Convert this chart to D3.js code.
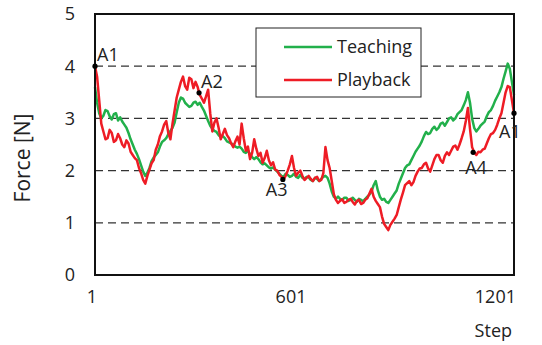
<!DOCTYPE html>
<html lang="en">
<head>
  <meta charset="UTF-8">
  <title>Teaching vs Playback force</title>
  <script src="https://d3js.org/d3.v7.min.js"></script>
  <style>
    body { margin: 0; background: #fff; }
    text { font-family: "Open Sans", sans-serif; fill: #222; }
  </style>
</head>
<body>
<svg width="542" height="345"></svg>
<script>
  const steps = d3.range(1, 1202, 6);
  const teaching = [
    3.6, 3.3, 3.1, 3.0, 3.05, 3.16, 3.14, 3.04, 2.98, 3.08, 3.1, 2.96, 3.02, 2.94, 2.88, 2.82, 2.72, 2.6, 2.5, 2.4,
    2.32, 2.22, 2.1, 1.98, 1.9, 1.96, 2.05, 2.18, 2.25, 2.3, 2.35, 2.46, 2.55, 2.58, 2.62, 2.7, 2.76, 2.82, 2.92, 3.12,
    3.3, 3.4, 3.38, 3.3, 3.26, 3.22, 3.24, 3.3, 3.32, 3.26, 3.3, 3.22, 3.15, 3.05, 2.95, 2.86, 2.8, 2.76, 2.74, 2.68,
    2.64, 2.66, 2.62, 2.56, 2.54, 2.52, 2.5, 2.46, 2.44, 2.46, 2.42, 2.36, 2.34, 2.38, 2.32, 2.26, 2.22, 2.26, 2.22, 2.16,
    2.12, 2.14, 2.1, 2.06, 2.04, 2.06, 2.02, 1.98, 1.94, 1.9, 1.88, 1.94, 1.92, 1.88, 1.9, 1.94, 1.88, 1.86, 1.92, 1.86,
    1.84, 1.88, 1.87, 1.82, 1.8, 1.86, 1.84, 1.8, 1.84, 1.88, 1.9, 1.86, 1.75, 1.6, 1.5, 1.46, 1.5, 1.46, 1.44, 1.48,
    1.48, 1.42, 1.44, 1.48, 1.44, 1.4, 1.46, 1.44, 1.41, 1.46, 1.5, 1.54, 1.6, 1.72, 1.8, 1.62, 1.5, 1.44, 1.46, 1.4,
    1.38, 1.44, 1.5, 1.56, 1.62, 1.75, 1.85, 1.95, 2.05, 2.1, 2.12, 2.2, 2.28, 2.36, 2.42, 2.48, 2.56, 2.66, 2.74, 2.7,
    2.72, 2.8, 2.84, 2.78, 2.82, 2.9, 2.92, 2.86, 2.93, 3.0, 3.02, 2.96, 3.0, 3.08, 3.12, 3.16, 3.25, 3.35, 3.5, 3.3,
    3.0, 2.82, 2.75, 2.8, 2.86, 2.9, 2.94, 3.04, 3.12, 3.16, 3.24, 3.34, 3.42, 3.5, 3.6, 3.76, 3.9, 4.05, 3.95, 3.7,
    3.45
  ];
  const playback = [
    4.0, 3.8, 3.35, 2.9, 2.75, 2.6, 2.62, 2.78, 2.72, 2.55, 2.58, 2.7, 2.62, 2.5, 2.45, 2.58, 2.52, 2.36, 2.3, 2.24,
    2.2, 2.05, 1.95, 1.82, 1.75, 1.9, 2.02, 2.14, 2.2, 2.4, 2.5, 2.66, 2.75, 2.88, 2.95, 2.72, 2.6, 2.9, 3.15, 3.4,
    3.55, 3.7, 3.8, 3.62, 3.55, 3.78, 3.75, 3.58, 3.7, 3.6, 3.45, 3.38, 3.3, 3.42, 3.55, 3.1, 2.75, 2.92, 3.0, 2.82,
    2.6, 2.7, 2.8, 2.68, 2.62, 2.52, 2.45, 2.56, 2.65, 2.5, 2.9, 2.62, 2.38, 2.46, 2.22, 2.34, 2.6, 2.42, 2.28, 2.34,
    2.15, 2.24, 2.38, 2.2, 2.1, 2.16, 2.02, 2.0, 1.92, 1.88, 1.83, 1.9, 2.0, 2.12, 2.28, 2.05, 1.9, 1.96, 2.0, 1.9,
    1.82, 1.86, 1.9, 1.84, 1.8, 1.86, 1.88, 1.8, 1.82, 1.95, 2.45, 2.2, 2.05, 1.8, 1.55, 1.44, 1.38, 1.42, 1.45, 1.38,
    1.4, 1.44, 1.46, 1.4, 1.35, 1.42, 1.44, 1.36, 1.38, 1.44, 1.47, 1.56, 1.65, 1.5, 1.42, 1.36, 1.3, 1.12, 0.98, 0.92,
    0.86, 0.96, 1.02, 1.08, 1.15, 1.3, 1.45, 1.58, 1.72, 1.76, 1.8, 1.72, 1.78, 1.9, 1.98, 2.04, 2.05, 2.12, 2.15, 2.04,
    1.98, 2.1, 2.22, 2.3, 2.3, 2.2, 2.15, 2.28, 2.35, 2.3, 2.38, 2.46, 2.48, 2.4, 2.5, 2.62, 2.75, 2.95, 3.2, 2.8,
    2.45, 2.35, 2.3, 2.36, 2.35, 2.4, 2.42, 2.52, 2.62, 2.7, 2.72, 2.78, 2.88, 3.0, 3.1, 3.3, 3.5, 3.62, 3.6, 3.35,
    3.1
  ];
  const points = [
    { name: "A1", step: 1, value: 4.0 },
    { name: "A2", step: 299, value: 3.49 },
    { name: "A3", step: 539, value: 1.83 },
    { name: "A4", step: 1084, value: 2.35 },
    { name: "A1", step: 1201, value: 3.1 }
  ];
  const xTicks = [1, 601, 1201];
  const yTicks = [0, 1, 2, 3, 4, 5];
  const seriesNames = ["Teaching", "Playback"];
  const colors = ["#22b04b", "#ee1c25"];

  const svg = d3.select("svg");
  const x = d3.scaleLinear().domain([1, 1201]).range([95, 514]);
  const y = d3.scaleLinear().domain([0, 5]).range([275, 14]);

  // dashed grid
  svg.append("g").selectAll("line")
    .data([1, 2, 3, 4]).enter().append("line")
    .attr("x1", x(1)).attr("x2", x(1201))
    .attr("y1", d => y(d)).attr("y2", d => y(d))
    .attr("stroke", "#333").attr("stroke-width", 1.2)
    .attr("stroke-dasharray", "8,5");

  // y tick labels
  svg.append("g").selectAll("text")
    .data(yTicks).enter().append("text")
    .attr("x", 75).attr("y", d => y(d))
    .attr("dy", "0.36em")
    .attr("text-anchor", "end")
    .attr("font-size", 18)
    .text(d => d);

  // x tick labels
  svg.append("g").selectAll("text")
    .data(xTicks).enter().append("text")
    .attr("x", d => x(d) + 2).attr("y", 303)
    .attr("text-anchor", "end")
    .attr("font-size", 18)
    .text(d => d);

  svg.append("text")
    .attr("x", 512).attr("y", 337)
    .attr("text-anchor", "end")
    .attr("font-size", 18)
    .text("Step");

  svg.append("text")
    .attr("transform", "translate(30,158) rotate(-90)")
    .attr("text-anchor", "middle")
    .attr("font-size", 21)
    .text("Force [N]");

  const line = d3.line()
    .x((d, i) => x(steps[i]))
    .y(d => y(d));

  [teaching, playback].forEach((s, i) => {
    svg.append("path")
      .datum(s)
      .attr("d", line)
      .attr("fill", "none")
      .attr("stroke", colors[i])
      .attr("stroke-width", 2.5)
      .attr("stroke-linejoin", "round");
  });

  // frame
  svg.append("rect")
    .attr("x", x(1)).attr("y", y(5))
    .attr("width", x(1201) - x(1)).attr("height", y(0) - y(5))
    .attr("fill", "none").attr("stroke", "#111").attr("stroke-width", 2);

  // marked points
  svg.append("g").selectAll("circle")
    .data(points).enter().append("circle")
    .attr("cx", d => x(d.step)).attr("cy", d => y(d.value))
    .attr("r", 2.6).attr("fill", "#000");

  const labelOffsets = [[2, -5], [2, -5], [-17, 17], [-8, 22], [-15, 25]];
  svg.append("g").selectAll("text")
    .data(points).enter().append("text")
    .attr("x", (d, i) => x(d.step) + labelOffsets[i][0])
    .attr("y", (d, i) => y(d.value) + labelOffsets[i][1])
    .attr("font-size", 18)
    .text(d => d.name);

  // legend
  const lg = svg.append("g");
  lg.append("rect")
    .attr("x", 256).attr("y", 28).attr("width", 165).attr("height", 69)
    .attr("fill", "#fff").attr("stroke", "#222").attr("stroke-width", 1);
  seriesNames.forEach((n, i) => {
    const ly = 47 + i * 33;
    lg.append("line")
      .attr("x1", 284).attr("x2", 332).attr("y1", ly).attr("y2", ly)
      .attr("stroke", colors[i]).attr("stroke-width", 2.5);
    lg.append("text")
      .attr("x", 337).attr("y", ly).attr("dy", "0.36em")
      .attr("font-size", 18)
      .text(n);
  });
</script>
</body>
</html>
